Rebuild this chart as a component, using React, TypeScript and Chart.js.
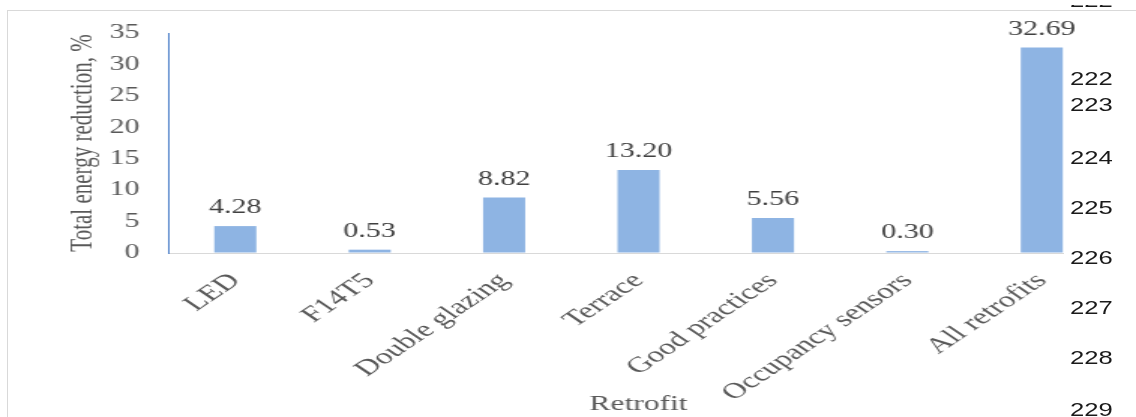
import React, { useEffect, useRef } from "react";
import { Chart, registerables } from "chart.js";

Chart.register(...registerables);

const categories = [
  "LED",
  "F14T5",
  "Double glazing",
  "Terrace",
  "Good practices",
  "Occupancy sensors",
  "All retrofits",
];
const values = [4.28, 0.53, 8.82, 13.2, 5.56, 0.3, 32.69];
const yMin = 0;
const yMax = 35;
const yStep = 5;
const yTitle = "Total energy reduction, %";
const xTitle = "Retrofit";
const lineNumbers = ["222", "223", "224", "225", "226", "227", "228", "229"];
const lineNumberY = [69, 95, 148, 198, 248, 298, 348, 400];

const SERIF = "'Liberation Serif', 'Times New Roman', serif";
const CW = 757;
const CH = 417;

const valueLabels = {
  id: "valueLabels",
  afterDatasetsDraw(chart: any) {
    const ctx = chart.ctx;
    const meta = chart.getDatasetMeta(0);
    ctx.save();
    ctx.font = `20px ${SERIF}`;
    ctx.fillStyle = "#404040";
    ctx.textAlign = "center";
    ctx.textBaseline = "alphabetic";
    meta.data.forEach((el: any, i: number) => {
      ctx.fillText(values[i].toFixed(2), el.x, el.y - 13);
    });
    ctx.restore();
  },
};

export default function App() {
  const ref = useRef<HTMLCanvasElement | null>(null);
  useEffect(() => {
    if (!ref.current) return;
    const chart = new Chart(ref.current, {
      type: "bar",
      data: {
        labels: categories,
        datasets: [
          {
            data: values,
            backgroundColor: "#8EB4E3",
            borderWidth: 0,
            categoryPercentage: 1,
            barPercentage: 0.313,
          },
        ],
      },
      options: {
        animation: false,
        responsive: false,
        devicePixelRatio: 1,
        layout: { padding: { left: 40, right: 18, top: 33, bottom: 0 } },
        plugins: {
          legend: { display: false },
          tooltip: { enabled: false },
        },
        scales: {
          x: {
            offset: true,
            grid: { color: "transparent", drawTicks: false },
            border: { display: true, color: "#D9D9D9", width: 1 },
            ticks: {
              autoSkip: false,
              minRotation: 45,
              maxRotation: 45,
              padding: 15,
              color: "#595959",
              font: { family: SERIF, size: 22 },
            },
            title: {
              display: true,
              text: xTitle,
              color: "#595959",
              font: { family: SERIF, size: 21 },
              padding: { top: 0, bottom: 0 },
            },
            afterFit(scale: any) {
              scale.height = 164;
            },
          },
          y: {
            min: yMin,
            max: yMax,
            grid: { color: "transparent", drawTicks: false },
            border: { display: true, color: "#4A7EC8", width: 1 },
            ticks: {
              stepSize: yStep,
              padding: 19,
              color: "#595959",
              font: { family: SERIF, size: 20 },
            },
            title: {
              display: true,
              text: yTitle,
              color: "#595959",
              font: { family: SERIF, size: 21 },
              padding: { top: 3, bottom: 4 },
            },
            afterFit(scale: any) {
              scale.width = 72;
            },
          },
        },
      },
      plugins: [valueLabels],
    });
    return () => chart.destroy();
  }, []);

  return (
    <div
      style={{
        position: "fixed",
        left: 0,
        top: 0,
        width: 1136,
        height: 417,
        overflow: "hidden",
        background: "#ffffff",
      }}
    >
      <div
        style={{
          position: "absolute",
          left: 7,
          top: 10,
          width: 1160,
          height: 440,
          border: "1px solid #D9D9D9",
        }}
      />
      <canvas
        ref={ref}
        width={CW}
        height={CH}
        style={{ position: "absolute", left: 0, top: 0, width: 1136, height: 417 }}
      />
      <div
        style={{
          position: "absolute",
          left: 1064,
          top: 42,
          width: 72,
          height: 380,
          background: "#ffffff",
        }}
      />
      <div
        style={{
          position: "absolute",
          left: 1070,
          top: 5,
          width: 60,
          height: 4,
          overflow: "hidden",
        }}
      >
        <div
          style={{
            position: "absolute",
            left: 0,
            top: -14,
            fontFamily: "'Liberation Sans', Arial, sans-serif",
            fontSize: 19,
            lineHeight: "20px",
            color: "#1a1a1a",
            transform: "scaleX(1.35)",
            transformOrigin: "left top",
          }}
        >
          222
        </div>
      </div>
      {lineNumbers.map((n, i) => (
        <div
          key={n}
          style={{
            position: "absolute",
            left: 1070,
            top: lineNumberY[i],
            fontFamily: "'Liberation Sans', Arial, sans-serif",
            fontSize: 19,
            lineHeight: "20px",
            color: "#1a1a1a",
            transform: "scaleX(1.35)",
            transformOrigin: "left top",
          }}
        >
          {n}
        </div>
      ))}
    </div>
  );
}
